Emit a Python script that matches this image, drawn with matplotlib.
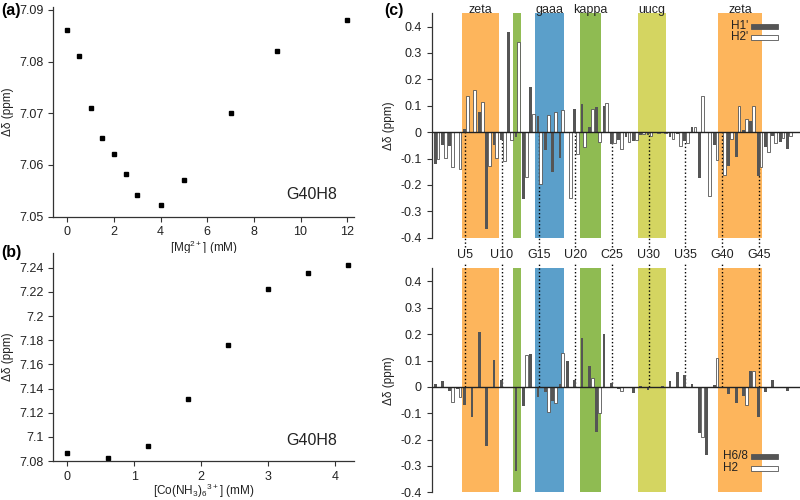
import matplotlib
matplotlib.use('Agg')
import matplotlib.pyplot as plt
import numpy as np
from matplotlib.patches import Rectangle
from matplotlib.ticker import FuncFormatter

# ---- panel (a): Mg2+ titration of G40H8
mg_conc = [0, 0.5, 1, 1.5, 2, 2.5, 3, 4, 5, 7, 9, 12]
mg_shift = [7.0861, 7.0811, 7.0711, 7.0652, 7.0622, 7.0582, 7.0542, 7.0522,
            7.0571, 7.0701, 7.0820, 7.0881]

# ---- panel (b): Co(NH3)6 3+ titration of G40H8
co_conc = [0, 0.6, 1.2, 1.8, 2.4, 3.0, 3.6, 4.2]
co_shift = [7.0865, 7.0827, 7.0925, 7.1313, 7.1763, 7.2224, 7.2354, 7.2422]

# ---- panel (c): chemical shift differences per residue (1..49)
residues = np.arange(1, 50)
h1p = [-0.120, -0.047, -0.052, 0.000, 0.013, -0.005, 0.075, -0.367, -0.049, -0.029,
       0.381, -0.019, -0.254, 0.171, 0.062, -0.066, -0.152, -0.097, 0.000, 0.087,
       0.108, 0.019, 0.096, 0.100, -0.046, -0.029, -0.020, -0.035, -0.011, -0.010,
       -0.005, -0.003, -0.017, -0.008, -0.032, 0.018, -0.172, 0.000, -0.050, 0.000,
       -0.127, -0.094, 0.009, 0.042, -0.165, -0.057, -0.016, -0.038, -0.065]
h2p = [-0.103, -0.099, -0.133, -0.140, 0.138, 0.160, 0.113, -0.127, -0.097, -0.111,
       -0.029, 0.340, -0.170, 0.068, -0.195, 0.066, 0.075, 0.082, -0.248, -0.084,
       -0.058, 0.086, -0.039, 0.110, -0.042, -0.063, -0.039, -0.030, -0.009, -0.014,
       -0.003, -0.005, -0.028, -0.052, -0.042, 0.019, 0.138, -0.243, -0.105, -0.162,
       -0.025, 0.097, 0.049, 0.097, -0.134, -0.077, -0.042, -0.023, -0.013]
h68 = [0.011, 0.022, -0.014, -0.009, -0.070, -0.116, 0.209, -0.223, 0.101, 0.027,
       -0.002, -0.319, -0.071, 0.124, -0.037, -0.019, -0.053, 0.010, 0.097, 0.025,
       0.187, 0.080, -0.170, 0.200, 0.015, -0.008, -0.003, -0.025, 0.004, -0.011,
       0.000, 0.002, 0.023, 0.056, 0.046, 0.011, -0.176, -0.260, 0.006, -0.004,
       -0.028, -0.062, -0.033, 0.060, -0.114, -0.018, 0.025, -0.005, -0.014]
nan = np.nan
h2 = [nan, nan, -0.056, -0.037, nan, nan, nan, nan, nan, nan,
      nan, nan, 0.122, nan, nan, -0.095, -0.060, 0.127, nan, nan,
      nan, 0.034, -0.099, nan, nan, -0.015, nan, nan, nan, nan,
      nan, nan, nan, nan, nan, nan, -0.190, nan, 0.108, nan,
      nan, nan, -0.070, 0.060, nan, nan, nan, nan, nan]

# structural elements (residue ranges) and labelled residues
regions = [(4.55, 9.55, '#FDB55C', 'zeta'), (11.55, 12.57, '#92BC55', ''),
           (14.55, 18.5, '#5B9FCA', 'gaaa'), (20.57, 23.5, '#8FBB52', 'kappa'),
           (28.52, 32.4, '#D4D561', 'uucg'), (39.47, 45.43, '#FDB55C', 'zeta')]
mark_res = [5, 10, 15, 20, 25, 30, 35, 40, 45]
mark_lab = ['U5', 'U10', 'G15', 'U20', 'C25', 'U30', 'U35', 'G40', 'G45']

plt.rcParams['font.family'] = ['Liberation Sans', 'DejaVu Sans']
plt.rcParams['mathtext.default'] = 'regular'
txt = '#222222'
dark = '#555555'

fig = plt.figure(figsize=(8, 5), dpi=100)


def style_axes(ax):
    for s in ['top', 'right']:
        ax.spines[s].set_visible(False)
    for s in ['left', 'bottom']:
        ax.spines[s].set_color('#333333')
        ax.spines[s].set_linewidth(0.9)
    ax.tick_params(direction='out', length=3.5, width=0.8, colors='#333333',
                   labelsize=9, labelcolor=txt)


gfmt = FuncFormatter(lambda v, p: f'{round(v, 4) + 0.0:g}')

# (a)
ax_a = fig.add_axes([0.0667, 0.5666, 0.376, 0.419])
ax_a.plot(mg_conc, mg_shift, 's', color='black', ms=3.3)
ax_a.set_xlim(-0.6, 12.3)
ax_a.set_ylim(7.05, 7.0905)
ax_a.set_xticks(range(0, 13, 2))
ax_a.set_yticks([7.05, 7.06, 7.07, 7.08, 7.09])
ax_a.yaxis.set_major_formatter(FuncFormatter(lambda v, p: f'{v:.2f}'))
style_axes(ax_a)
ax_a.set_xlabel(r'[Mg$^{2+}$] (mM)', fontsize=8.5, color=txt, labelpad=0.5)
ax_a.set_ylabel('Δδ (ppm)', fontsize=8.5, color=txt, labelpad=4)
ax_a.text(0.86, 0.107, 'G40H8', transform=ax_a.transAxes, fontsize=11.5,
          ha='center', va='center', color=txt)

# (b)
ax_b = fig.add_axes([0.0667, 0.078, 0.376, 0.4154])
ax_b.plot(co_conc, co_shift, 's', color='black', ms=3.3)
ax_b.set_xlim(-0.21, 4.29)
ax_b.set_ylim(7.08, 7.252)
ax_b.set_xticks(range(0, 5))
ax_b.set_yticks(np.arange(7.08, 7.2401, 0.02))
ax_b.yaxis.set_major_formatter(gfmt)
style_axes(ax_b)
ax_b.set_xlabel(r'[Co(NH$_3$)$_6$$^{3+}$] (mM)', fontsize=8.5, color=txt, labelpad=-0.5)
ax_b.set_ylabel('Δδ (ppm)', fontsize=8.5, color=txt, labelpad=4)
ax_b.text(0.86, 0.101, 'G40H8', transform=ax_b.transAxes, fontsize=11.5,
          ha='center', va='center', color=txt)

fig.text(0.001, 0.98, '(a)', fontsize=11.5, fontweight='bold', va='center')
fig.text(0.001, 0.496, '(b)', fontsize=11.5, fontweight='bold', va='center')
fig.text(0.48, 0.98, '(c)', fontsize=11.5, fontweight='bold', va='center')


def shift_panel(ax, dark_vals, white_vals, labels, leg_y, text_x):
    for x0, x1, col, name in regions:
        ax.axvspan(x0, x1, color=col, lw=0, zorder=0)
    ax.bar(residues - 0.1, dark_vals, width=0.38, color=dark, lw=0, zorder=2)
    ax.bar(residues + 0.29, white_vals, width=0.38, color='white',
           edgecolor=dark, lw=0.6, zorder=2)
    ax.axhline(0, color='#222222', lw=1.0, zorder=3)
    ax.set_xlim(0.42, 50.6)
    ax.set_ylim(-0.4, 0.45)
    ax.set_yticks(np.arange(-0.4, 0.41, 0.1))
    ax.yaxis.set_major_formatter(gfmt)
    style_axes(ax)
    ax.spines['bottom'].set_visible(False)
    ax.set_xticks([])
    ax.set_ylabel('Δδ (ppm)', fontsize=8.5, color=txt, labelpad=4)
    ax.patch.set_alpha(0)
    for lab, y, fc in zip(labels, leg_y, [dark, 'white']):
        ax.text(text_x, y, lab, transform=ax.transAxes, fontsize=8.5,
                ha='left', va='center', color=txt)
        ax.add_patch(Rectangle((0.866, y - 0.011), 0.0733, 0.022,
                               transform=ax.transAxes, facecolor=fc,
                               edgecolor=dark, lw=0.6, zorder=4))


ax_t = fig.add_axes([0.5396, 0.5246, 0.4604, 0.4488])
shift_panel(ax_t, h1p, h2p, ["H1'", "H2'"], [0.942, 0.894], 0.812)
for x0, x1, col, name in regions:
    ax_t.text((x0 + x1) / 2, 1.015, name, transform=ax_t.get_xaxis_transform(),
              ha='center', va='center', fontsize=9, color=txt)
ax_t.vlines(mark_res, -0.435, 0, colors='black', linestyles=':', lw=1,
            clip_on=False, zorder=1)
for r, lab in zip(mark_res, mark_lab):
    ax_t.text(r, -0.077, lab, transform=ax_t.get_xaxis_transform(),
              ha='center', va='center', fontsize=9, color=txt)

ax_bt = fig.add_axes([0.5396, 0.0154, 0.4604, 0.448])
shift_panel(ax_bt, h68, h2, ['H6/8', 'H2'], [0.161, 0.108], 0.790)
ax_bt.vlines(mark_res, 0, 0.475, colors='black', linestyles=':', lw=1,
             clip_on=False, zorder=1)

fig.savefig('out.png', dpi=100)
